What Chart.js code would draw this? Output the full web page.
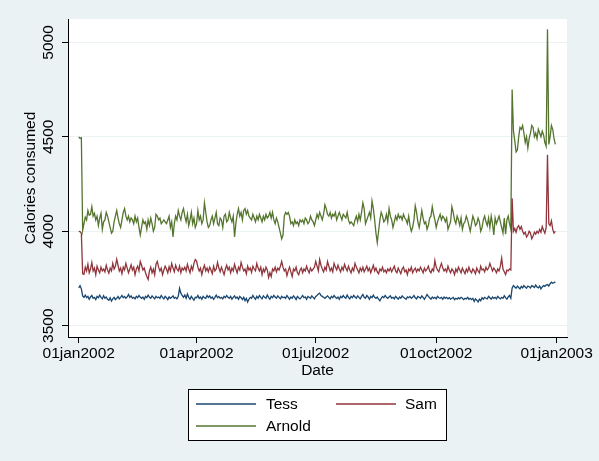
<!DOCTYPE html>
<html>
<head>
<meta charset="utf-8">
<script src="https://cdn.jsdelivr.net/npm/chart.js@4.4.1/dist/chart.umd.min.js"></script>
<style>
  body { margin: 0; background: #eaf2f3; }
  canvas { display: block; }
</style>
</head>
<body>
<canvas id="calChart" width="599" height="461"></canvas>
<script>
// 数据：2002 年每日卡路里（第 0 天 = 01jan2002）
const seriesNames = ['Tess', 'Sam', 'Arnold'];
const seriesColors = ['#1a476f', '#90353b', '#55752f'];

const xTickDays = [0, 90, 181, 273, 365];
const xTickLabels = ['01jan2002', '01apr2002', '01jul2002', '01oct2002', '01jan2003'];
const yTickValues = [3500, 4000, 4500, 5000];

const tess = [
  3700,3712,3695,3658,3650,3662,3648,3655,3640,3652,3660,3645,3650,3638,3655,3648,3662,3650,3642,3658,
  3645,3652,3640,3635,3648,3630,3642,3650,3638,3645,3655,3642,3650,3660,3648,3655,3645,3652,3665,3650,
  3658,3645,3650,3642,3655,3648,3660,3650,3645,3652,3640,3655,3648,3662,3650,3645,3658,3650,3642,3655,
  3648,3652,3645,3660,3650,3642,3655,3648,3638,3652,3645,3650,3658,3645,3650,3642,3655,3698,3672,3660,
  3650,3662,3645,3668,3650,3640,3655,3645,3635,3650,3648,3660,3645,3652,3640,3655,3648,3645,3660,3650,
  3658,3645,3652,3640,3650,3662,3648,3655,3645,3650,3642,3655,3648,3660,3650,3645,3655,3640,3650,3658,
  3645,3652,3640,3655,3648,3638,3650,3632,3645,3625,3640,3650,3645,3660,3648,3640,3655,3645,3660,3650,
  3642,3658,3650,3645,3662,3650,3640,3655,3648,3660,3652,3645,3658,3650,3642,3655,3648,3652,3645,3660,
  3650,3640,3652,3645,3658,3650,3638,3655,3648,3642,3650,3660,3648,3652,3640,3655,3650,3645,3658,3650,
  3642,3655,3660,3668,3672,3660,3655,3650,3645,3652,3658,3650,3642,3655,3648,3660,3650,3645,3652,3640,
  3655,3648,3660,3650,3645,3662,3650,3642,3655,3648,3660,3652,3645,3658,3650,3642,3655,3665,3650,3645,
  3660,3652,3640,3655,3648,3662,3650,3645,3652,3640,3632,3645,3655,3648,3660,3650,3645,3652,3658,3645,
  3650,3642,3655,3648,3640,3652,3645,3658,3650,3645,3640,3652,3648,3655,3645,3650,3660,3648,3642,3655,
  3650,3645,3658,3650,3640,3652,3665,3655,3648,3640,3652,3645,3650,3642,3655,3648,3645,3650,3640,3652,
  3645,3650,3642,3648,3640,3645,3650,3638,3645,3640,3648,3642,3650,3645,3638,3645,3642,3650,3640,3645,
  3638,3645,3628,3642,3635,3625,3640,3632,3648,3640,3650,3645,3642,3655,3648,3640,3652,3645,3650,3642,
  3655,3648,3642,3650,3645,3658,3648,3640,3652,3660,3645,3700,3712,3705,3698,3710,3702,3695,3708,3700,
  3712,3705,3698,3710,3706,3700,3712,3708,3702,3715,3705,3700,3710,3695,3705,3712,3708,3715,3718,3710,
  3722,3730,3725,3728,3732
];

const sam = [
  4000,3998,3990,3775,3772,3810,3790,3825,3780,3800,3835,3790,3805,3770,3815,3795,3780,3810,3790,3800,
  3785,3820,3795,3778,3805,3790,3830,3800,3815,3852,3820,3790,3805,3775,3810,3795,3830,3805,3780,3800,
  3822,3795,3810,3770,3800,3815,3790,3840,3820,3795,3805,3780,3760,3745,3790,3810,3780,3800,3770,3825,
  3840,3810,3790,3805,3770,3795,3815,3800,3780,3812,3790,3830,3805,3785,3820,3800,3790,3815,3780,3805,
  3795,3810,3790,3825,3800,3780,3815,3795,3830,3850,3842,3810,3790,3805,3770,3800,3820,3790,3805,3785,
  3810,3795,3775,3815,3790,3800,3835,3805,3785,3810,3790,3770,3800,3820,3795,3810,3780,3805,3790,3825,
  3800,3780,3810,3795,3835,3810,3790,3800,3775,3815,3795,3805,3782,3815,3800,3790,3830,3805,3790,3810,
  3770,3800,3785,3810,3795,3755,3780,3760,3800,3790,3810,3785,3805,3795,3815,3840,3810,3790,3800,3765,
  3790,3810,3785,3760,3800,3790,3810,3780,3770,3795,3805,3780,3800,3790,3815,3795,3780,3805,3790,3800,
  3810,3840,3815,3790,3850,3820,3800,3785,3810,3795,3840,3815,3790,3805,3785,3830,3810,3795,3820,3800,
  3785,3810,3795,3825,3805,3790,3815,3795,3780,3805,3790,3830,3810,3795,3780,3805,3790,3810,3785,3800,
  3815,3790,3805,3780,3800,3820,3790,3805,3785,3775,3800,3790,3810,3785,3795,3780,3800,3790,3805,3785,
  3800,3815,3790,3780,3805,3790,3775,3800,3810,3785,3795,3770,3800,3790,3810,3780,3795,3805,3785,3800,
  3790,3810,3795,3780,3805,3790,3800,3815,3790,3780,3800,3790,3845,3810,3795,3785,3810,3830,3805,3790,
  3800,3785,3815,3795,3780,3800,3790,3770,3800,3785,3810,3795,3780,3805,3790,3775,3800,3785,3810,3790,
  3780,3800,3790,3775,3805,3790,3780,3815,3795,3800,3785,3810,3795,3805,3830,3810,3790,3805,3795,3780,
  3800,3790,3815,3858,3800,3785,3770,3795,3790,3800,3795,4175,4000,4015,3995,4020,4030,4010,4025,4000,
  3985,3995,3970,3980,4000,3990,3960,3975,3995,3985,4000,3990,4010,3995,4025,4005,3990,4020,4405,4040,
  4030,4055,4010,3990,4000
];

const arnold = [
  4500,4492,4495,4005,4040,4075,4060,4110,4085,4090,4130,4080,4095,4060,4080,4030,4070,4095,4010,4050,
  4060,4100,4080,4050,4020,3990,4000,4050,4080,4110,4070,4040,4020,4060,4100,4120,4080,4060,4080,4050,
  4070,4060,4040,4080,4050,4070,4020,3980,4020,4060,4040,4050,4010,4060,4030,4070,4040,4000,4020,4090,
  4080,4060,4070,4040,4050,4060,4050,4040,4060,4080,4020,4050,3970,4040,4080,4060,4110,4080,4060,4100,
  4120,4080,4050,4090,4030,4060,4100,4040,4070,4020,4040,4110,4060,4080,4040,4060,4150,4100,4050,4020,
  4030,4060,4080,4040,4070,4100,4040,4030,4070,4060,4020,4080,4090,4050,4060,4100,4070,4050,4080,3970,
  4040,4090,4120,4080,4100,4060,4110,4120,4090,4110,4080,4070,4060,4090,4070,4050,4080,4060,4090,4070,
  4050,4080,4060,4090,4070,4080,4100,4070,4100,4060,4040,4070,4050,4020,3990,3960,3980,4080,4100,4090,
  4100,4080,4040,4050,4030,4060,4040,4050,4030,4060,4050,4060,4040,4070,4060,4040,4050,4080,4060,4050,
  4030,4060,4090,4070,4100,4080,4060,4090,4140,4120,4090,4080,4100,4070,4090,4080,4100,4060,4080,4100,
  4080,4060,4090,4080,4070,4100,4060,4040,4050,4040,4030,4060,4080,4050,4090,4060,4100,4150,4120,4040,
  4060,4080,4100,4070,4160,4120,4060,3990,3940,4000,4060,4100,4080,4050,4060,4090,4050,4120,4080,4060,
  4020,4050,4080,4060,4090,4070,4080,4060,4090,4070,4060,4040,4080,4030,4000,4020,4060,4135,4100,4050,
  4020,4060,4110,4070,4040,4050,4010,4030,4070,4080,4130,4090,4060,4020,4050,4070,4090,4060,4080,4070,
  4050,4070,4010,4030,4050,4130,4100,4060,4040,4080,4060,4030,4070,4010,4040,4050,4080,4060,4030,4000,
  4040,4080,4060,4030,4040,4070,4050,4000,4020,4060,4080,4050,4030,4070,4020,4080,4040,3980,4070,4040,
  4060,4080,4050,4020,3990,4070,3985,4060,4080,4040,4010,4750,4530,4480,4420,4430,4500,4550,4540,4560,
  4520,4470,4500,4440,4490,4520,4560,4550,4500,4520,4490,4540,4520,4500,4530,4510,4470,4450,5070,4460,
  4500,4560,4540,4490,4460
];

const seriesValues = [tess, sam, arnold];

const FONT_FAMILY = '"Liberation Sans", Arial, sans-serif';
const FONT_SIZE = 15.5;
const TEXT_FONT = FONT_SIZE + 'px ' + FONT_FAMILY;

// 背景：外框浅灰蓝，绘图区白色
const backgroundPlugin = {
  id: 'stataBackground',
  beforeDraw(chart) {
    const { ctx, chartArea } = chart;
    ctx.save();
    ctx.fillStyle = '#eaf2f3';
    ctx.fillRect(0, 0, chart.width, chart.height);
    ctx.fillStyle = '#ffffff';
    ctx.fillRect(chartArea.left, chartArea.top, chartArea.right - chartArea.left, chartArea.bottom - chartArea.top);
    ctx.restore();
  }
};

// 竖排的 y 轴刻度、轴标题和图例
const labelsPlugin = {
  id: 'stataLabels',
  afterDraw(chart) {
    const { ctx, chartArea, scales } = chart;
    ctx.save();
    ctx.fillStyle = '#000';
    ctx.font = TEXT_FONT;
    ctx.textAlign = 'center';
    ctx.textBaseline = 'middle';

    yTickValues.forEach(v => {
      const y = scales.y.getPixelForValue(v);
      ctx.save();
      ctx.translate(48.5, y);
      ctx.rotate(-Math.PI / 2);
      ctx.fillText(String(v), 0, 0);
      ctx.restore();
    });

    ctx.save();
    ctx.translate(31, (chartArea.top + chartArea.bottom) / 2);
    ctx.rotate(-Math.PI / 2);
    ctx.fillText('Calories consumed', 0, 0);
    ctx.restore();

    ctx.fillText('Date', (chartArea.left + chartArea.right) / 2, 371);

    // 图例框
    const box = { x: 188.5, y: 389.5, w: 258, h: 51 };
    ctx.fillStyle = '#ffffff';
    ctx.fillRect(box.x, box.y, box.w, box.h);
    ctx.strokeStyle = '#000';
    ctx.lineWidth = 1;
    ctx.strokeRect(box.x, box.y, box.w, box.h);

    const slots = [
      { lx: 196, tx: 266, y: 404 },
      { lx: 336, tx: 405, y: 404 },
      { lx: 196, tx: 266, y: 426 }
    ];
    ctx.textAlign = 'left';
    seriesNames.forEach((name, i) => {
      const s = slots[i];
      ctx.strokeStyle = seriesColors[i];
      ctx.lineWidth = 1.5;
      ctx.beginPath();
      ctx.moveTo(s.lx, s.y);
      ctx.lineTo(s.lx + 60, s.y);
      ctx.stroke();
      ctx.fillStyle = '#000';
      ctx.fillText(name, s.tx, s.y + 1);
    });
    ctx.restore();
  }
};

function buildDatasets() {
  return seriesNames.map((name, i) => ({
    label: name,
    data: seriesValues[i].map((v, day) => ({ x: day, y: v })),
    borderColor: seriesColors[i],
    borderWidth: 1.3,
    pointRadius: 0,
    tension: 0,
    fill: false
  }));
}

function initChart() {
  const ctx = document.getElementById('calChart').getContext('2d');
  new Chart(ctx, {
    type: 'line',
    data: { datasets: buildDatasets() },
    options: {
      responsive: false,
      animation: false,
      layout: { padding: { left: 0, top: 19, right: 32, bottom: 83 } },
      plugins: {
        legend: { display: false },
        tooltip: { enabled: false }
      },
      scales: {
        x: {
          type: 'linear',
          min: -8.2,
          max: 372.9,
          afterBuildTicks(scale) {
            scale.ticks = xTickDays.map(v => ({ value: v }));
          },
          afterFit(scale) { scale.height = 41; },
          ticks: {
            autoSkip: false,
            maxRotation: 0,
            minRotation: 0,
            padding: 1,
            color: '#000',
            font: { family: FONT_FAMILY, size: FONT_SIZE },
            callback: (value) => xTickLabels[xTickDays.indexOf(value)]
          },
          grid: { drawOnChartArea: false, drawTicks: true, tickLength: 6, tickColor: '#000' },
          border: { color: '#000', width: 1 }
        },
        y: {
          type: 'linear',
          min: 3440,
          max: 5124,
          afterBuildTicks(scale) {
            scale.ticks = yTickValues.map(v => ({ value: v }));
          },
          afterFit(scale) { scale.width = 68; },
          ticks: { display: false },
          grid: { color: '#eaf2f3', lineWidth: 1, drawTicks: true, tickLength: 6, tickColor: '#000' },
          border: { color: '#000', width: 1 }
        }
      }
    },
    plugins: [backgroundPlugin, labelsPlugin]
  });
}

if (document.readyState === 'loading') {
  document.addEventListener('DOMContentLoaded', initChart);
} else {
  initChart();
}
</script>
</body>
</html>
